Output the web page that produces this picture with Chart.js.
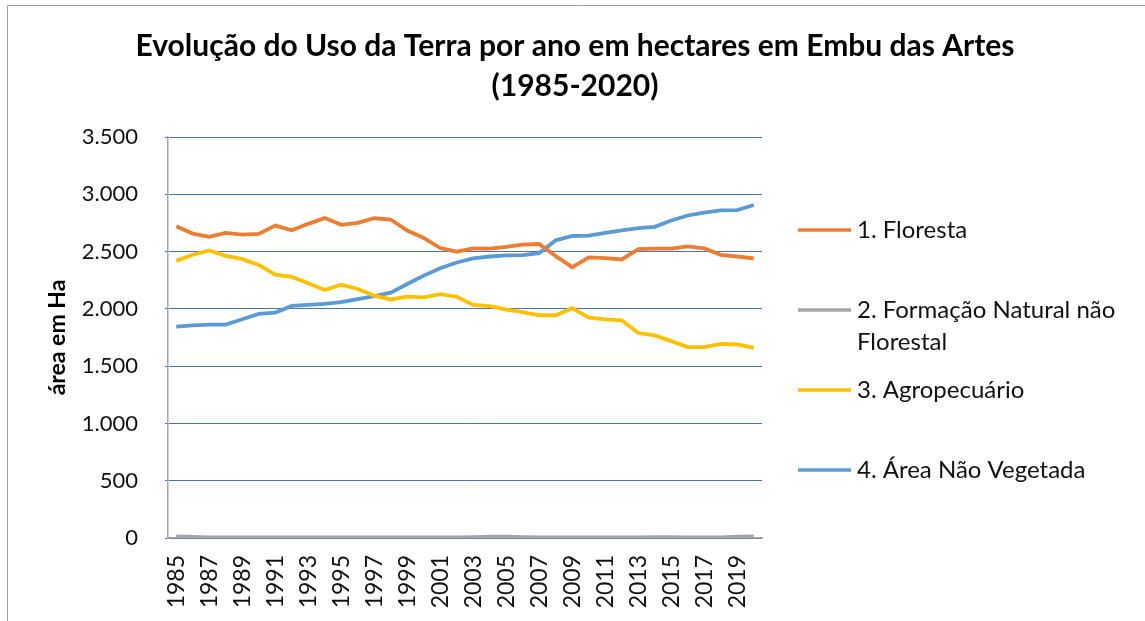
<!DOCTYPE html>
<html>
<head>
<meta charset="utf-8">
<script src="https://cdn.jsdelivr.net/npm/chart.js@4.4.1/dist/chart.umd.min.js"></script>
<style>
  html, body { margin: 0; padding: 0; background: #fff; }
  #wrap { position: relative; width: 1145px; height: 621px; }
</style>
</head>
<body>
<div id="wrap"><canvas id="c" width="1145" height="621"></canvas></div>
<script>
const years = [1985,1986,1987,1988,1989,1990,1991,1992,1993,1994,1995,1996,1997,1998,1999,2000,2001,2002,2003,2004,2005,2006,2007,2008,2009,2010,2011,2012,2013,2014,2015,2016,2017,2018,2019,2020];
const floresta = [2721,2657,2628,2663,2648,2654,2727,2686,2742,2792,2733,2751,2791,2780,2683,2619,2531,2499,2528,2525,2540,2560,2566,2460,2364,2449,2443,2431,2522,2525,2525,2545,2528,2472,2457,2440];
const formacaoNatural = [15,10,5,5,5,5,5,5,5,5,5,5,5,5,5,5,5,5,8,12,12,8,5,5,5,5,5,5,5,8,8,5,5,5,12,15];
const agropecuario = [2419,2472,2510,2463,2434,2384,2299,2279,2223,2164,2211,2173,2115,2082,2106,2100,2129,2106,2035,2023,1994,1971,1944,1944,2006,1924,1909,1900,1789,1768,1718,1666,1666,1695,1689,1660];
const areaNaoVegetada = [1845,1856,1862,1862,1909,1956,1968,2026,2035,2044,2059,2085,2112,2141,2217,2290,2355,2405,2440,2457,2466,2469,2487,2598,2636,2639,2663,2686,2704,2716,2771,2815,2839,2859,2862,2906];
const seriesNames = ['1. Floresta', '2. Formação Natural não Florestal', '3. Agropecuário', '4. Área Não Vegetada'];
const legendLines = [['1. Floresta'], ['2. Formação Natural não', 'Florestal'], ['3. Agropecuário'], ['4. Área Não Vegetada']];
const titleLines = ['Evolução do Uso da Terra por ano em hectares em Embu das Artes', '(1985-2020)'];
const yTitle = 'área em Ha';

const FONT = 'Lato, "Open Sans", sans-serif';
const colors = ['#ED7D31', '#A5A5A5', '#FFC000', '#5B9BD5'];

function fmt(v) { return String(v).replace(/\B(?=(\d{3})+(?!\d))/g, '.'); }

const frame = {
  id: 'frame',
  beforeDraw(chart) {
    const ctx = chart.ctx;
    ctx.save();
    ctx.strokeStyle = '#A0A0A0';
    ctx.lineWidth = 1;
    ctx.beginPath();
    ctx.moveTo(7.5, 621);
    ctx.lineTo(7.5, 5.5);
    ctx.lineTo(1145, 5.5);
    ctx.stroke();
    ctx.restore();
  }
};

const headTitle = {
  id: 'headTitle',
  afterDraw(chart) {
    const ctx = chart.ctx;
    ctx.save();
    ctx.font = 'bold 30px ' + FONT;
    ctx.fillStyle = '#000';
    ctx.textAlign = 'center';
    ctx.textBaseline = 'middle';
    ctx.fillText(titleLines[0], 575, 46);
    ctx.fillText(titleLines[1], 575, 86);
    ctx.restore();
  }
};

const sideLegend = {
  id: 'sideLegend',
  afterDraw(chart) {
    const ctx = chart.ctx;
    const ys = [230, 310, 390, 470];
    ctx.save();
    ctx.font = '24px ' + FONT;
    ctx.textBaseline = 'middle';
    ctx.fillStyle = '#111';
    chart.data.datasets.forEach((ds, i) => {
      const y = ys[i];
      ctx.strokeStyle = ds.borderColor;
      ctx.lineWidth = 3.5;
      ctx.beginPath();
      ctx.moveTo(798, y);
      ctx.lineTo(851, y);
      ctx.stroke();
      legendLines[i].forEach((t, j) => ctx.fillText(t, 857, y + j * 32));
    });
    ctx.restore();
  }
};

const mk = (i, data) => ({
  label: seriesNames[i], data, borderColor: colors[i], backgroundColor: colors[i],
  borderWidth: 3.8, pointRadius: 0, tension: 0, fill: false
});

new Chart(document.getElementById('c'), {
  type: 'line',
  data: {
    labels: years,
    datasets: [mk(0, floresta), mk(1, formacaoNatural), mk(2, agropecuario), mk(3, areaNaoVegetada)]
  },
  options: {
    responsive: false,
    animation: false,
    layout: { padding: { left: 0, right: 383, top: 137, bottom: 0 } },
    plugins: {
      legend: { display: false },
      tooltip: { enabled: false },
      title: { display: false }
    },
    scales: {
      x: {
        type: 'category',
        offset: true,
        grid: { display: false },
        border: { display: true, color: '#A6A6A6', width: 1.5 },
        ticks: {
          autoSkip: false, minRotation: 90, maxRotation: 90, padding: 9,
          color: '#111', font: { family: FONT, size: 23 },
          callback: (v, i) => (i % 2 === 0 ? String(years[i]) : '')
        },
        afterFit: s => { s.height = 83; }
      },
      y: {
        min: 0, max: 3500,
        grid: { color: '#4472C4', lineWidth: 1, drawTicks: true, tickLength: 3 },
        border: { display: true, color: '#A6A6A6', width: 1.5 },
        ticks: {
          stepSize: 500, padding: 27, color: '#111',
          font: { family: FONT, size: 22 },
          callback: v => fmt(v)
        },
        title: {
          display: true, text: yTitle, color: '#000',
          font: { family: FONT, size: 23, weight: 'bold' },
          padding: { top: 44, bottom: 0 }
        },
        afterFit: s => { s.width = 168; }
      }
    }
  },
  plugins: [frame, headTitle, sideLegend]
});
</script>
</body>
</html>
